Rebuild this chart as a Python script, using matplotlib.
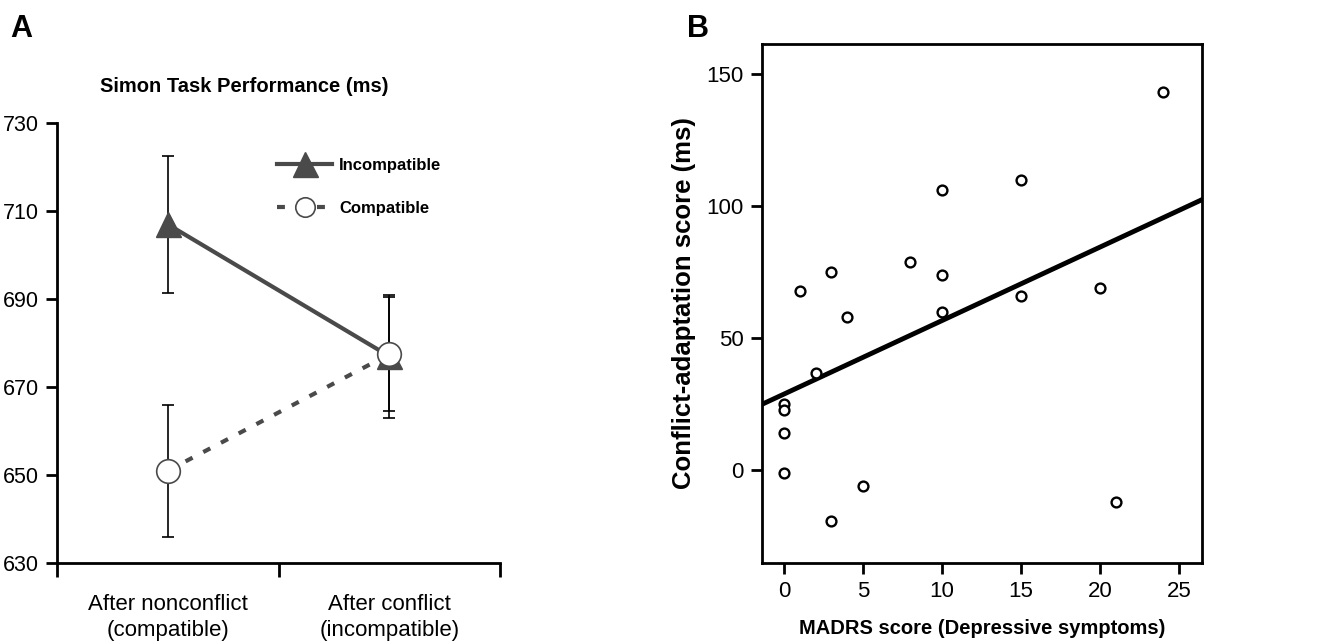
import numpy as np
import matplotlib.pyplot as plt
from matplotlib.lines import Line2D

plt.rcParams['font.family'] = ['Liberation Sans', 'DejaVu Sans']

# Panel A: Simon task reaction times
conditions = ['After nonconflict\n(compatible)', 'After conflict\n(incompatible)']
incompatible_mean = [707, 677]
incompatible_err = [15.5, 14]
compatible_mean = [651, 677.5]
compatible_err = [15, 13]

# Panel B: MADRS vs conflict-adaptation
madrs = [24, 15, 10, 8, 3, 10, 1, 20, 15, 10, 4, 2, 0, 0, 0, 0, 5, 3, 21]
adaptation = [143, 110, 106, 79, 75, 74, 68, 69, 66, 60, 58, 37, 25, 23, 14, -1, -6, -19, -12]

gray = '#4a4a4a'

fig = plt.figure(figsize=(13.27, 6.42), dpi=100)

# ---------------- Panel A ----------------
axA = fig.add_axes([0.043, 0.123, 0.334, 0.685])
xpos = np.array([0.5, 1.5])

axA.errorbar(xpos, compatible_mean, yerr=compatible_err, fmt='none', ecolor='black',
             elinewidth=1.2, capsize=4, capthick=1.2, zorder=1)
axA.errorbar(xpos, incompatible_mean, yerr=incompatible_err, fmt='none', ecolor='black',
             elinewidth=1.2, capsize=4, capthick=1.2, zorder=1)
axA.plot(xpos, incompatible_mean, color=gray, lw=3, marker='^', markersize=18,
         markerfacecolor=gray, markeredgecolor=gray, zorder=2, label='Incompatible')
axA.plot(xpos, compatible_mean, color=gray, lw=3, dashes=(1.9, 2.9), marker='o',
         markersize=17, markerfacecolor='white', markeredgecolor=gray, markeredgewidth=1.2,
         zorder=3, label='Compatible')

axA.set_xlim(0, 2)
axA.set_ylim(630, 730)
axA.set_yticks([630, 650, 670, 690, 710, 730])
axA.set_xticks([0, 1, 2])
axA.set_xticklabels([])
for s in ['top', 'right']:
    axA.spines[s].set_visible(False)
for s in ['left', 'bottom']:
    axA.spines[s].set_linewidth(2)
axA.tick_params(axis='y', direction='out', length=8, width=2, pad=5, labelsize=15.5)
axA.tick_params(axis='x', direction='out', length=10, width=2)
for xp, txt in zip(xpos, conditions):
    axA.text(xp, -0.07, txt, transform=axA.get_xaxis_transform(), ha='center', va='top',
             fontsize=16, linespacing=1.3)

handles = [Line2D([], [], color=gray, lw=3, marker='^', markersize=18, markerfacecolor=gray,
                  markeredgecolor=gray),
           Line2D([], [], color=gray, lw=3, dashes=(1.9, 2.9), marker='o', markersize=14,
                  markerfacecolor='white', markeredgecolor=gray, markeredgewidth=1.2)]
leg = axA.legend(handles, ['Incompatible', 'Compatible'], loc='upper left',
                 bbox_to_anchor=(0.497, 0.922), frameon=False, borderpad=0, borderaxespad=0,
                 handlelength=3.3, handletextpad=0.4, labelspacing=1.68,
                 prop={'weight': 'bold', 'size': 12})

fig.text(0.184, 0.866, 'Simon Task Performance (ms)', ha='center', va='center',
         fontsize=14.5, fontweight='bold')
fig.text(0.008, 0.955, 'A', ha='left', va='center', fontsize=22, fontweight='bold')

# ---------------- Panel B ----------------
axB = fig.add_axes([0.5742, 0.123, 0.3316, 0.8085])
axB.scatter(madrs, adaptation, s=50, facecolors='white', edgecolors='black',
            linewidths=1.7, zorder=3)
slope, intercept = np.polyfit(madrs, adaptation, 1)
xl = np.array([-1.4, 26.45])
axB.plot(xl, intercept + slope * xl, color='black', lw=3.5, zorder=2)

axB.set_xlim(-1.4, 26.45)
axB.set_ylim(-35, 161.3)
axB.set_xticks([0, 5, 10, 15, 20, 25])
axB.set_yticks([0, 50, 100, 150])
for s in axB.spines.values():
    s.set_linewidth(2)
axB.tick_params(direction='out', length=8, width=2, pad=5, labelsize=16)
axB.set_xlabel('MADRS score (Depressive symptoms)', fontsize=14.5, fontweight='bold', labelpad=12)
axB.set_ylabel('Conflict-adaptation score (ms)', fontsize=18.5, fontweight='bold', labelpad=8)
fig.text(0.518, 0.955, 'B', ha='left', va='center', fontsize=22, fontweight='bold')

plt.savefig('out.png', dpi=100)
